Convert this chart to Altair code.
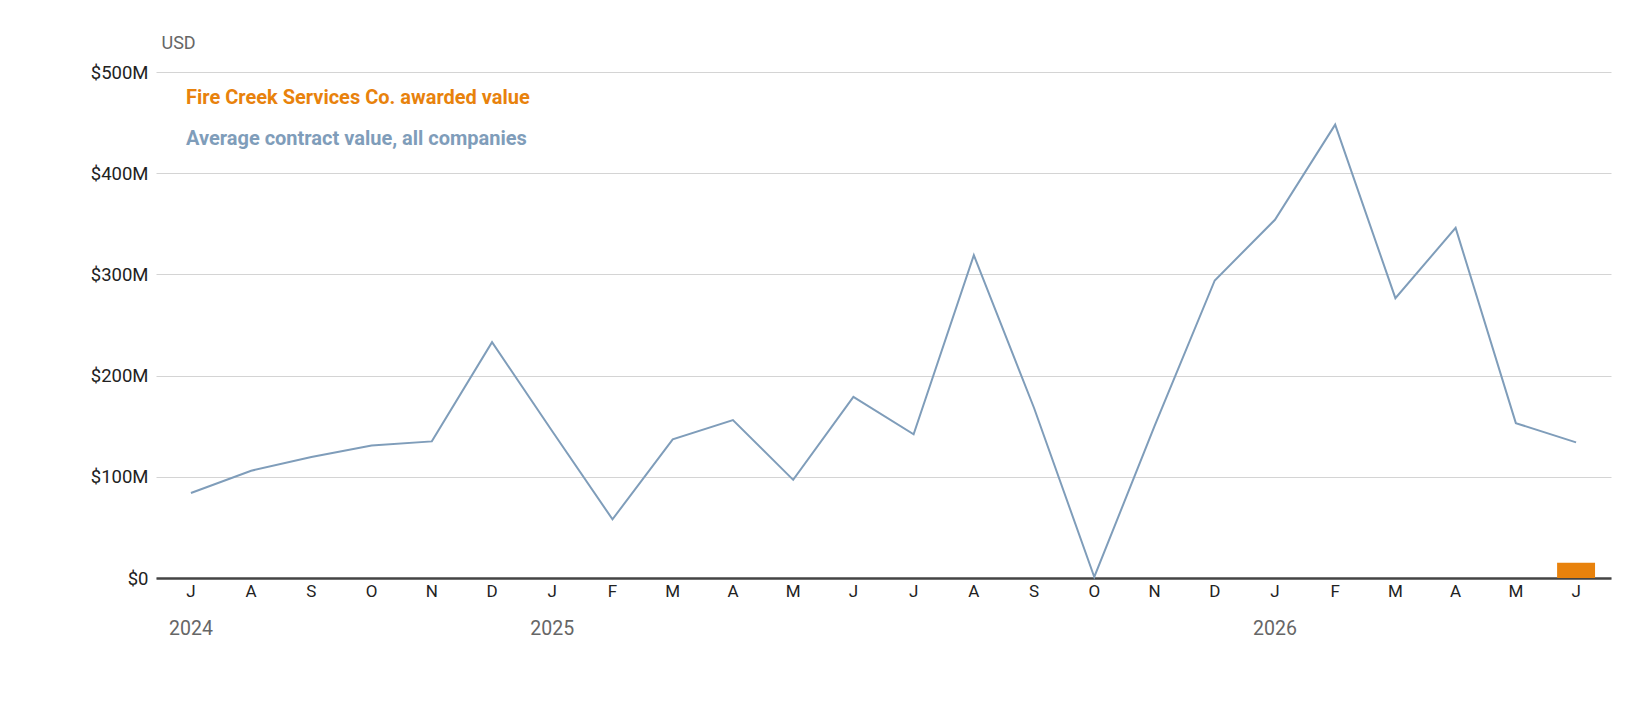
import altair as alt
import pandas as pd

months = ["2024-07","2024-08","2024-09","2024-10","2024-11","2024-12",
          "2025-01","2025-02","2025-03","2025-04","2025-05","2025-06",
          "2025-07","2025-08","2025-09","2025-10","2025-11","2025-12",
          "2026-01","2026-02","2026-03","2026-04","2026-05","2026-06"]
avg_value = [84, 106, 119.5, 131, 135, 233,
             145, 58, 137, 156, 97, 179,
             142, 319, 168, 1, 150, 294,
             354, 448, 276.5, 346, 153, 134]
company_months = ["2026-06"]
company_value = [15]

year_labels = ["2024", "2025", "2026"]
year_months = ["2024-07", "2025-01", "2026-01"]

legend_labels = ["Fire Creek Services Co. awarded value", "Average contract value, all companies"]
legend_colors = ["#e8820c", "#7f9dba"]

FONT = "Roboto, sans-serif"
W, H = 1455, 506

line_df = pd.DataFrame({"month": months, "value": avg_value})
bar_df = pd.DataFrame({"month": company_months, "value": company_value})
year_df = pd.DataFrame({"month": year_months, "label": year_labels})

xscale = alt.Scale(domain=months, paddingInner=0, paddingOuter=0.08)
yscale = alt.Scale(domain=[0, 500])

x_axis = alt.Axis(title=None, labelExpr="substring('JFMAMJJASOND', toNumber(slice(datum.value, 5)) - 1, toNumber(slice(datum.value, 5)))",
                  labelAngle=0, ticks=False, domainColor="#444444", domainWidth=2.5,
                  labelFont=FONT, labelFontSize=17, labelColor="#222222", labelPadding=5,
                  grid=False)
y_axis = alt.Axis(values=[0, 100, 200, 300, 400, 500],
                  labelExpr="datum.value == 0 ? '$0' : '$' + datum.value + 'M'",
                  ticks=False, domain=False, gridColor="#d4d4d4", gridWidth=1,
                  labelFont=FONT, labelFontSize=18.5, labelColor="#222222", labelPadding=8,
                  title="USD", titleAngle=0, titleAlign="left", titleBaseline="middle",
                  titleX=5, titleY=-29, titleFont=FONT, titleFontSize=18,
                  titleFontWeight="normal", titleColor="#666666")

line = alt.Chart(line_df).mark_line(color="#7f9dba", strokeWidth=2).encode(
    x=alt.X("month:N", scale=xscale, sort=months, bandPosition=0.5, axis=x_axis),
    y=alt.Y("value:Q", scale=yscale, axis=y_axis),
)

bar = alt.Chart(bar_df).mark_bar(color="#e8820c", width={"band": 0.63}).encode(
    x=alt.X("month:N", scale=xscale, sort=months, axis=x_axis),
    y=alt.Y("value:Q", scale=yscale, axis=y_axis),
)

years = alt.Chart(year_df).mark_text(font=FONT, fontSize=19.5, color="#666666", baseline="middle").encode(
    x=alt.X("month:N", scale=xscale, sort=months, bandPosition=0.5, axis=x_axis),
    y=alt.value(H + 51),
    text="label:N",
)

legend_layers = []
for i, (lab, col) in enumerate(zip(legend_labels, legend_colors)):
    legend_layers.append(
        alt.Chart(pd.DataFrame({"label": [lab]})).mark_text(
            font=FONT, fontSize=20, fontWeight="bold", align="left", baseline="middle", color=col
        ).encode(x=alt.value(30), y=alt.value(26 + 41 * i), text="label:N")
    )

chart = alt.layer(bar, line, years, *legend_layers).properties(
    width=W, height=H,
    background="white",
    padding={"left": 156, "top": 72, "right": 39, "bottom": 142},
    autosize=alt.AutoSizeParams(type="none"),
).configure_view(stroke=None)

chart.save("out.html", embed_options={"renderer": "svg", "actions": False})
